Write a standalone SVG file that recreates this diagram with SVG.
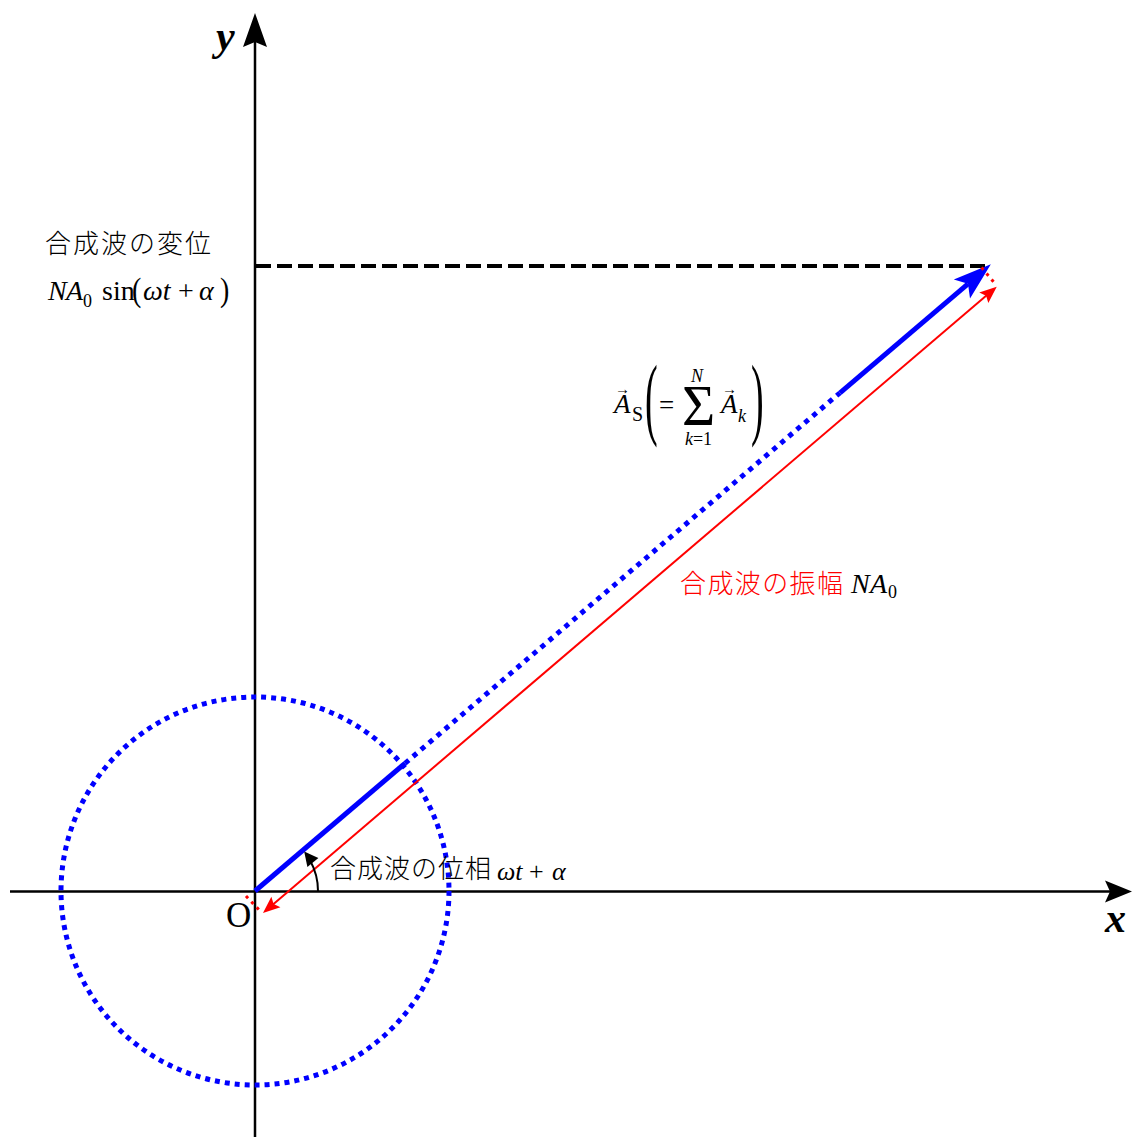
<svg xmlns="http://www.w3.org/2000/svg" width="1132" height="1137" viewBox="0 0 1132 1137">
<style>
.ax{stroke:#000;stroke-width:2.5;fill:none}
.m{font-family:"Liberation Serif","Times New Roman",serif;fill:#000}
.i{font-style:italic}
.jp{font-family:"Noto Sans CJK JP","Noto Sans CJK SC",sans-serif;font-weight:300}
.blue{stroke:#0000ff;stroke-width:5;fill:none}
.bdot{stroke:#0000ff;stroke-width:5;fill:none;stroke-dasharray:5 5.5}
.red{stroke:#ff0000;stroke-width:2;fill:none}
.rdot{stroke:#ff0000;stroke-width:3;fill:none;stroke-dasharray:3 4.8}
</style>
<defs>
<marker id="redHead" viewBox="-6 -8 20 16" markerWidth="20" markerHeight="16" refX="0" refY="0" markerUnits="userSpaceOnUse" orient="auto-start-reverse">
<path d="M12,0 L-5,-7 L-2,0 L-5,7 Z" fill="#ff0000"/>
</marker>
<marker id="blueHead" viewBox="-10 -14 42 28" markerWidth="42" markerHeight="28" refX="0" refY="0" markerUnits="userSpaceOnUse" orient="auto">
<path d="M30,0 L-8,-12.5 L0,0 L-8,12.5 Z" fill="#0000ff"/>
</marker>
</defs>
<rect width="1132" height="1137" fill="#fff"/>

<g id="axes">
<line class="ax" x1="255" y1="1137" x2="255" y2="40"/>
<path d="M255,13 L267,47 L255,42 L243,47 Z" fill="#000"/>
<line class="ax" x1="10" y1="891.5" x2="1110" y2="891.5"/>
<path d="M1132,891.5 L1105,880.5 L1110,891.5 L1105,902.5 Z" fill="#000"/>
<text class="m i" x="216" y="50" font-size="42" font-weight="bold">y</text>
<text class="m i" x="1105" y="932" font-size="42" font-weight="bold">x</text>
<text class="m" x="226" y="927" font-size="35">O</text>
</g>

<g id="circle">
<circle cx="255" cy="891" r="194" class="bdot" style="stroke-dasharray:5 5"/>
</g>

<g id="connectors">
<line x1="256" y1="266" x2="988" y2="266" stroke="#000" stroke-width="4" stroke-dasharray="15 6"/>
<line class="blue" x1="255" y1="891" x2="405" y2="763.3"/>
<line class="bdot" x1="405" y1="763.3" x2="840" y2="392.8"/>
<line class="blue" x1="840" y1="392.8" x2="968" y2="283.8" marker-end="url(#blueHead)"/>
<line class="red" x1="272.1" y1="905.2" x2="987.6" y2="294.5" marker-start="url(#redHead)" marker-end="url(#redHead)"/>
<line class="rdot" x1="981.5" y1="267.5" x2="995" y2="283.5"/>
<line class="rdot" x1="246" y1="896" x2="261" y2="912"/>
<path d="M318,891 A63,63 0 0 0 310.1,860.5" stroke="#000" stroke-width="2" fill="none"/>
<path d="M304.2,851.6 L318.4,858.1 L312.9,862.5 L307.4,866.9 Z" fill="#000"/>
</g>

<g id="label-displacement">
<text class="jp" x="45" y="253" font-size="26" textLength="166" lengthAdjust="spacing">合成波の変位</text>
<text class="m i" x="48" y="300" font-size="28">N</text>
<text class="m i" x="66" y="300" font-size="28">A</text>
<text class="m" x="83" y="307" font-size="18">0</text>
<text class="m" x="102" y="300" font-size="28">sin</text>
<text class="m" transform="translate(132,300.8) scale(1,1.2)" font-size="28">(</text>
<text class="m i" x="143" y="300" font-size="28">ωt</text>
<text class="m" x="178" y="300" font-size="28">+</text>
<text class="m i" x="199" y="300" font-size="28">α</text>
<text class="m" transform="translate(220,300.8) scale(1,1.2)" font-size="28">)</text>
</g>

<g id="label-vector">
<text class="m" x="615" y="394" font-size="15">→</text>
<text class="m i" x="614" y="413" font-size="27">A</text>
<text class="m" x="632" y="421" font-size="20">S</text>
<text class="m" transform="translate(645,428.4) scale(1,2.4)" font-size="38">(</text>
<text class="m" x="659" y="414" font-size="27">=</text>
<text class="m" x="682" y="425" font-size="57">Σ</text>
<text class="m i" x="691" y="382" font-size="18">N</text>
<text class="m i" x="685" y="445" font-size="18">k</text>
<text class="m" x="693" y="445" font-size="18">=</text>
<text class="m" x="703" y="445" font-size="18">1</text>
<text class="m" x="722" y="394" font-size="15">→</text>
<text class="m i" x="721" y="413" font-size="27">A</text>
<text class="m i" x="738" y="422" font-size="18">k</text>
<text class="m" transform="translate(751,428.4) scale(1,2.4)" font-size="38">)</text>
</g>

<g id="label-amplitude" fill="#ff0000">
<text class="jp" x="680" y="593" font-size="26" textLength="163" lengthAdjust="spacing" fill="#ff0000">合成波の振幅</text>
<text class="m i" x="851" y="593" font-size="28" fill="#ff0000">N</text>
<text class="m i" x="870" y="593" font-size="28" fill="#ff0000">A</text>
<text class="m" x="888" y="598" font-size="18" fill="#ff0000">0</text>
</g>

<g id="label-phase">
<text class="jp" x="330" y="878" font-size="26" textLength="161" lengthAdjust="spacing">合成波の位相</text>
<text class="m i" x="497" y="880" font-size="26">ωt</text>
<text class="m" x="529" y="880" font-size="26">+</text>
<text class="m i" x="552" y="880" font-size="26">α</text>
</g>
</svg>
